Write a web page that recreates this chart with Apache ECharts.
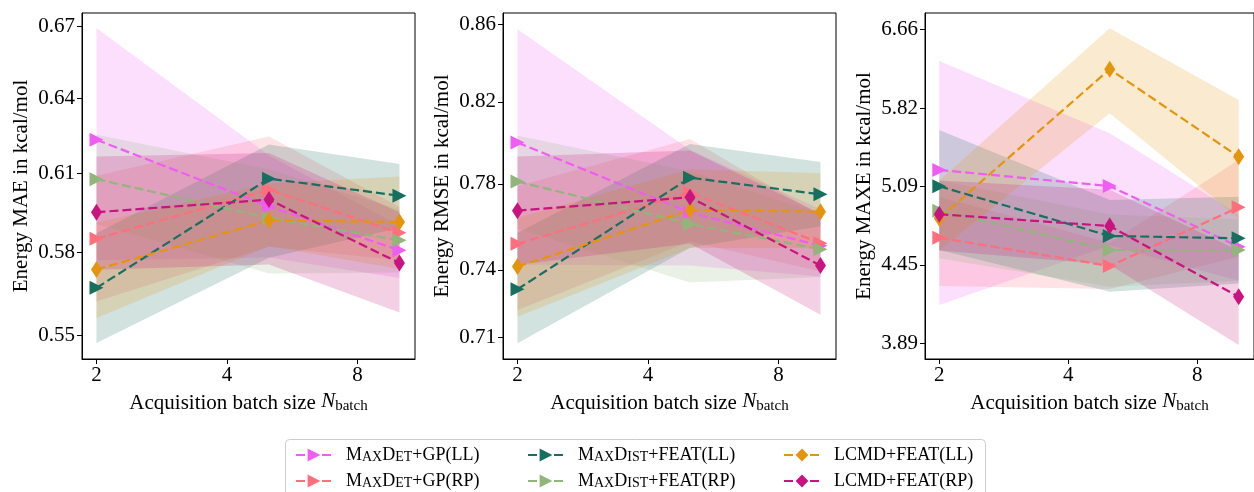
<!DOCTYPE html>
<html>
<head>
<meta charset="utf-8">
<script src="https://cdn.jsdelivr.net/npm/echarts@6/dist/echarts.min.js"></script>
<style>
  html, body { margin: 0; padding: 0; background: #fff; }
  #chart { width: 1254px; height: 492px; }
</style>
</head>
<body>
<div id="chart"></div>
<script>
// acquisition batch sizes (x) and axis ticks
const batchSizes = [2, 5, 10];
const xTicks = [2, 4, 8];

const methods = [
  "MaxDet+GP(LL)",
  "MaxDet+GP(RP)",
  "MaxDist+FEAT(LL)",
  "MaxDist+FEAT(RP)",
  "LCMD+FEAT(LL)",
  "LCMD+FEAT(RP)",
];
const colors = ["#ef5df3", "#ff6e7c", "#17705f", "#92b57c", "#e4950d", "#c9137f"];

// MAE
const maeTicks = [0.55, 0.58, 0.61, 0.64, 0.67];
const maeMean = [
  [0.6232, 0.5972, 0.5807],
  [0.5850, 0.6036, 0.5872],
  [0.5669, 0.6079, 0.6013],
  [0.6077, 0.5928, 0.5844],
  [0.5736, 0.5919, 0.5913],
  [0.5950, 0.5998, 0.5760],
];
const maeLow = [
  [0.5770, 0.5780, 0.5705],
  [0.5620, 0.5820, 0.5770],
  [0.5473, 0.5779, 0.5890],
  [0.5905, 0.5721, 0.5725],
  [0.5561, 0.5822, 0.5738],
  [0.5735, 0.5754, 0.5580],
];
const maeHigh = [
  [0.6693, 0.6170, 0.5900],
  [0.6090, 0.6245, 0.5970],
  [0.5870, 0.6213, 0.6136],
  [0.6252, 0.6115, 0.5960],
  [0.5910, 0.6060, 0.6087],
  [0.6166, 0.6179, 0.5950],
];

// RMSE
const rmseTicks = [0.71, 0.74, 0.78, 0.82, 0.86];
const rmseMean = [
  [0.7999, 0.7664, 0.7510],
  [0.7519, 0.7758, 0.7522],
  [0.7313, 0.7829, 0.7750],
  [0.7811, 0.7611, 0.7494],
  [0.7415, 0.7676, 0.7668],
  [0.7673, 0.7736, 0.7420],
];
const rmseLow = [
  [0.7423, 0.7420, 0.7370],
  [0.7221, 0.7530, 0.7393],
  [0.7076, 0.7501, 0.7600],
  [0.7590, 0.7343, 0.7368],
  [0.7191, 0.7500, 0.7500],
  [0.7423, 0.7520, 0.7200],
];
const rmseHigh = [
  [0.8573, 0.7964, 0.7680],
  [0.7790, 0.8016, 0.7650],
  [0.7570, 0.7992, 0.7904],
  [0.8032, 0.7860, 0.7660],
  [0.7640, 0.7870, 0.7850],
  [0.7931, 0.7960, 0.7660],
];

// MAXE
const maxeTicks = [3.89, 4.45, 5.09, 5.82, 6.66];
const maxeMean = [
  [5.234, 5.092, 4.590],
  [4.661, 4.440, 4.910],
  [5.090, 4.675, 4.656],
  [4.882, 4.564, 4.564],
  [4.819, 6.219, 5.354],
  [4.852, 4.755, 4.213],
];
const maxeLow = [
  [4.154, 4.600, 4.330],
  [4.291, 4.270, 4.512],
  [4.564, 4.250, 4.310],
  [4.500, 4.286, 4.330],
  [4.560, 5.767, 4.819],
  [4.560, 4.450, 3.879],
];
const maxeHigh = [
  [6.308, 5.573, 4.850],
  [5.000, 4.620, 5.324],
  [5.605, 4.971, 5.000],
  [5.140, 4.850, 4.810],
  [5.140, 6.671, 5.900],
  [5.140, 5.060, 4.560],
];

const FONT = "'Liberation Serif', 'DejaVu Serif', serif";

const panels = [
  { title: "Energy MAE in kcal/mol", ticks: maeTicks, mean: maeMean, low: maeLow, high: maeHigh, min: 0.5417, max: 0.6758, left: 82 },
  { title: "Energy RMSE in kcal/mol", ticks: rmseTicks, mean: rmseMean, low: rmseLow, high: rmseHigh, min: 0.7008, max: 0.8658, left: 503 },
  { title: "Energy MAXE in kcal/mol", ticks: maxeTicks, mean: maxeMean, low: maxeLow, high: maxeHigh, min: 3.787, max: 6.848, left: 925 },
];

// small caps emulation for the legend: lowercase runs drawn as smaller capitals
function smallCaps(name) {
  return name.replace(/([a-z]+)|([^a-z]+)/g, function (m, low, other) {
    return low ? "{s|" + low.toUpperCase() + "}" : "{b|" + other + "}";
  });
}

const grids = [], xAxes = [], yAxes = [], series = [];

panels.forEach(function (panel, p) {
  grids.push({
    left: panel.left, top: 13, width: 333, height: 346,
    show: true, borderColor: "#000", borderWidth: 1,
  });
  xAxes.push({
    type: "log", logBase: 2, gridIndex: p,
    min: 1.852, max: 10.86,
    name: "Acquisition batch size {i|N}{sub|batch}",
    nameLocation: "middle", nameGap: 27,
    nameTextStyle: {
      color: "#000", fontFamily: FONT, fontSize: 21,
      rich: {
        i: { fontFamily: FONT, fontSize: 21, fontStyle: "italic", color: "#000", verticalAlign: "bottom", lineHeight: 21, padding: [0, 0, 2, 0] },
        sub: { fontFamily: FONT, fontSize: 15, color: "#000", verticalAlign: "bottom", lineHeight: 15 },
      },
    },
    axisLine: { show: true, lineStyle: { color: "#000", width: 1 } },
    axisTick: { show: true, length: 5, customValues: xTicks, lineStyle: { color: "#000" } },
    axisLabel: {
      customValues: xTicks, margin: 6, color: "#000", fontFamily: FONT, fontSize: 21,
      formatter: function (v) { return String(Math.round(v)); },
    },
    splitLine: { show: false },
    minorTick: { show: false },
  });
  yAxes.push({
    type: "log", logBase: 10, gridIndex: p,
    min: panel.min, max: panel.max,
    name: panel.title, nameLocation: "middle", nameGap: 50,
    nameTextStyle: { color: "#000", fontFamily: FONT, fontSize: 21 },
    axisLine: { show: true, lineStyle: { color: "#000", width: 1 } },
    axisTick: { show: true, length: 5, customValues: panel.ticks, lineStyle: { color: "#000" } },
    axisLabel: {
      customValues: panel.ticks, margin: 7, color: "#000", fontFamily: FONT, fontSize: 21,
      formatter: function (v) { return v.toFixed(2); },
    },
    splitLine: { show: false },
    minorTick: { show: false },
  });

  // shaded spread bands
  methods.forEach(function (name, m) {
    series.push({
      type: "custom",
      xAxisIndex: p, yAxisIndex: p,
      silent: true, z: 1,
      data: batchSizes.map(function (x, i) { return [x, panel.low[m][i], panel.high[m][i]]; }),
      renderItem: function (params, api) {
        if (params.dataIndex !== 0) return null;
        const upper = batchSizes.map(function (x, i) { return api.coord([x, panel.high[m][i]]); });
        const lower = batchSizes.map(function (x, i) { return api.coord([x, panel.low[m][i]]); }).reverse();
        return {
          type: "polygon",
          shape: { points: upper.concat(lower) },
          style: { fill: colors[m], opacity: 0.2 },
        };
      },
    });
  });

  // dashed mean lines with markers
  methods.forEach(function (name, m) {
    const isLcmd = m >= 4;
    series.push({
      type: "line", name: name,
      xAxisIndex: p, yAxisIndex: p, z: 3,
      data: batchSizes.map(function (x, i) { return [x, panel.mean[m][i]]; }),
      symbol: isLcmd ? "diamond" : "triangle",
      symbolSize: isLcmd ? [11, 17] : 14,
      symbolRotate: isLcmd ? 0 : -90,
      showAllSymbol: true,
      lineStyle: { color: colors[m], width: 2.2, type: [9, 4] },
      itemStyle: { color: colors[m] },
    });
  });
});

// one legend per entry, laid out in a 3 x 2 table
const legendLefts = [290, 522, 778];
const legendTops = [441, 467];
const legends = methods.map(function (name, m) {
  return {
    left: legendLefts[Math.floor(m / 2)], top: legendTops[m % 2],
    data: [name], itemWidth: 36, itemHeight: 16,
    selectedMode: false,
    formatter: smallCaps,
    textStyle: {
      color: "#000", fontFamily: FONT, fontSize: 18, padding: [0, 0, 0, 9],
      rich: {
        b: { fontFamily: FONT, fontSize: 18, color: "#000", verticalAlign: "bottom", lineHeight: 18 },
        s: { fontFamily: FONT, fontSize: 14, color: "#000", verticalAlign: "bottom", lineHeight: 14 },
      },
    },
  };
});

const chart = echarts.init(document.getElementById("chart"));
chart.setOption({
  animation: false,
  backgroundColor: "#fff",
  grid: grids,
  xAxis: xAxes,
  yAxis: yAxes,
  series: series,
  legend: legends,
  graphic: [{
    type: "rect", left: 285, top: 439, z: 0,
    shape: { width: 700, height: 70, r: 4 },
    style: { fill: "#fff", stroke: "#cccccc", lineWidth: 1 },
  }],
});
</script>
</body>
</html>
